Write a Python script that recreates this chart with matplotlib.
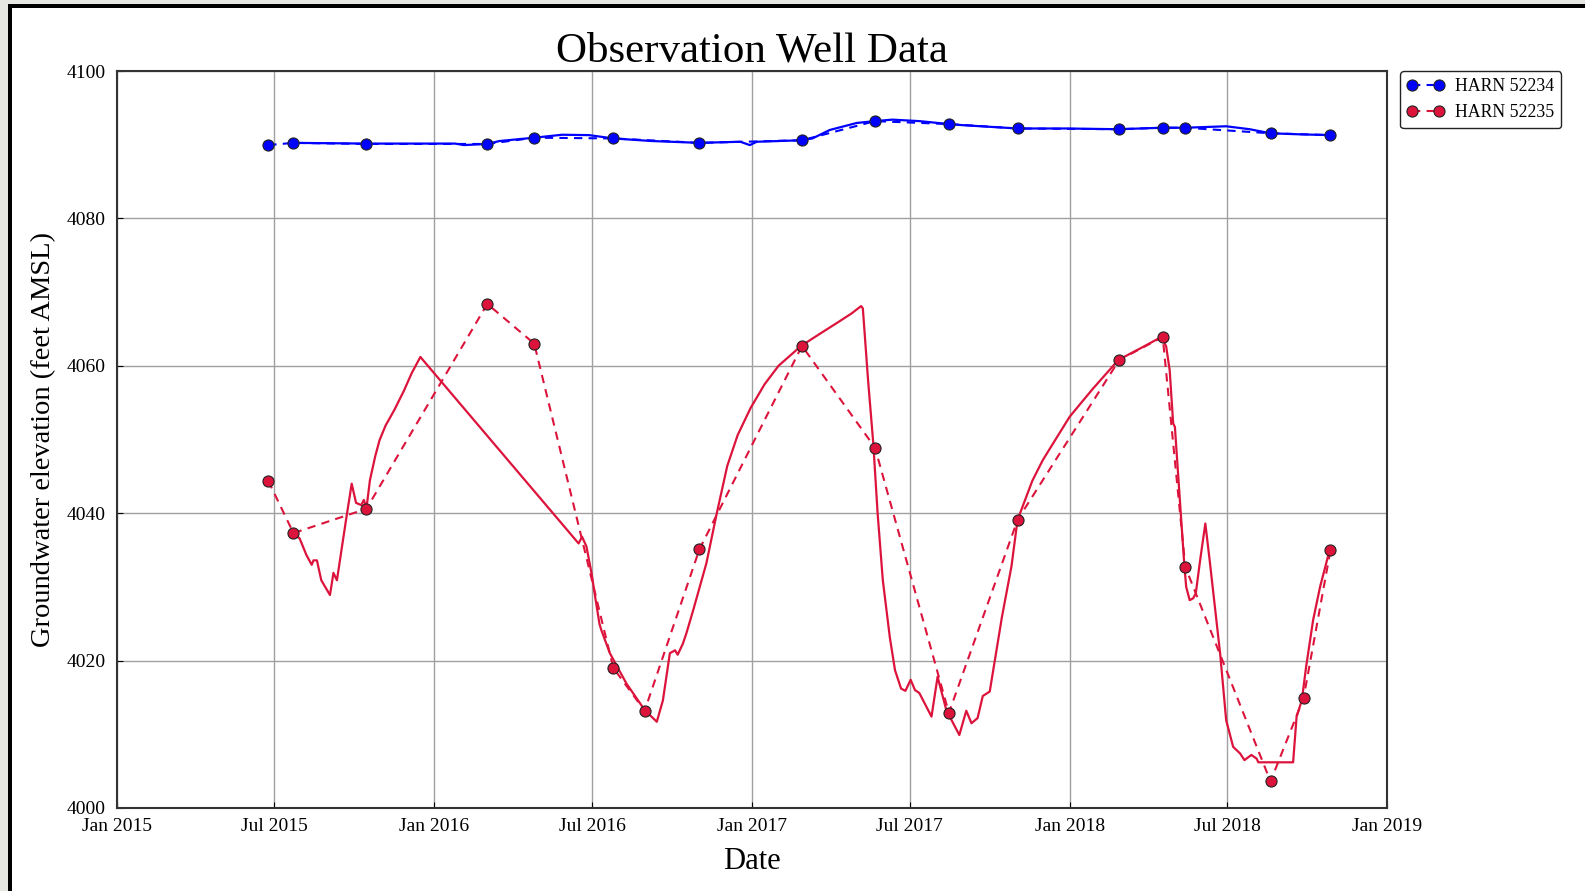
import matplotlib
matplotlib.use('Agg')
import matplotlib.pyplot as plt
import matplotlib.dates as mdates
from matplotlib.patches import Rectangle
import pandas as pd

# sample dates (dots) for each well
red_dates = ['2015-06-24', '2015-07-23', '2015-10-15', '2016-03-02', '2016-04-25',
             '2016-07-25', '2016-08-30', '2016-11-01', '2017-02-27', '2017-05-22',
             '2017-08-15', '2017-11-02', '2018-02-27', '2018-04-18', '2018-05-14',
             '2018-08-20', '2018-09-27', '2018-10-28']
red_values = [4044.4, 4037.3, 4040.6, 4068.4, 4063.0,
              4019.0, 4013.2, 4035.1, 4062.7, 4048.9,
              4012.9, 4039.1, 4060.8, 4063.9, 4032.7,
              4003.6, 4014.9, 4035.0]

blue_dates = ['2015-06-24', '2015-07-23', '2015-10-15', '2016-03-02', '2016-04-25',
              '2016-07-25', '2016-11-01', '2017-02-27', '2017-05-22', '2017-08-15',
              '2017-11-02', '2018-02-27', '2018-04-18', '2018-05-14', '2018-08-20',
              '2018-10-28']
blue_values = [4089.95, 4090.25, 4090.1, 4090.1, 4090.95,
               4090.85, 4090.25, 4090.6, 4093.2, 4092.8,
               4092.2, 4092.1, 4092.3, 4092.3, 4091.55,
               4091.3]

# continuous logger records
red_log_dates = ['2015-07-22', '2015-07-30', '2015-08-07', '2015-08-13', '2015-08-15',
                 '2015-08-19', '2015-08-24', '2015-09-03', '2015-09-07', '2015-09-11',
                 '2015-09-22', '2015-09-28', '2015-10-03', '2015-10-09', '2015-10-12',
                 '2015-10-15', '2015-10-19', '2015-10-25', '2015-10-30', '2015-11-06',
                 '2015-11-16', '2015-11-27', '2015-12-06', '2015-12-16',
                 '2016-06-15', '2016-06-19', '2016-06-24', '2016-06-30', '2016-07-04',
                 '2016-07-09', '2016-07-11', '2016-07-21', '2016-08-09', '2016-08-30',
                 '2016-09-13', '2016-09-20', '2016-09-28', '2016-10-04', '2016-10-07',
                 '2016-10-13', '2016-10-17', '2016-10-25', '2016-11-09', '2016-11-21',
                 '2016-12-03', '2016-12-15', '2016-12-30', '2017-01-15', '2017-01-31',
                 '2017-02-26', '2017-03-19', '2017-04-08', '2017-04-25',
                 '2017-05-06', '2017-05-08', '2017-05-14', '2017-05-20', '2017-05-25',
                 '2017-05-31', '2017-06-08', '2017-06-14', '2017-06-21', '2017-06-26',
                 '2017-07-02', '2017-07-07', '2017-07-12', '2017-07-26', '2017-08-02',
                 '2017-08-12', '2017-08-27', '2017-09-04', '2017-09-10', '2017-09-17',
                 '2017-09-23', '2017-10-01', '2017-10-15', '2017-10-26', '2017-11-02',
                 '2017-11-19', '2017-12-01', '2017-12-12', '2018-01-01', '2018-01-27',
                 '2018-02-26', '2018-03-27', '2018-04-17', '2018-04-22', '2018-04-26',
                 '2018-04-30', '2018-05-02', '2018-05-08', '2018-05-13', '2018-05-15',
                 '2018-05-19', '2018-05-23', '2018-05-26', '2018-05-31', '2018-06-06',
                 '2018-06-11', '2018-06-23', '2018-06-30', '2018-07-08', '2018-07-16',
                 '2018-07-21', '2018-07-29', '2018-08-04', '2018-08-06', '2018-09-15',
                 '2018-09-19', '2018-09-25', '2018-09-30', '2018-10-08', '2018-10-16',
                 '2018-10-27']
red_log_values = [4037.3, 4036.6, 4034.3, 4033.0, 4033.6,
                  4033.6, 4030.9, 4028.9, 4031.9, 4030.9,
                  4039.5, 4044.0, 4041.4, 4041.1, 4041.8,
                  4040.7, 4044.5, 4047.7, 4049.9, 4051.9,
                  4054.0, 4056.6, 4059.0, 4061.2,
                  4035.9, 4036.8, 4035.5, 4031.8, 4028.7,
                  4025.0, 4024.2, 4021.0, 4016.9, 4013.3,
                  4011.7, 4014.6, 4021.0, 4021.4, 4020.8,
                  4022.3, 4023.7, 4026.9, 4033.2, 4040.0,
                  4046.4, 4050.6, 4054.3, 4057.5, 4060.0,
                  4062.7, 4064.3, 4065.8, 4067.1,
                  4068.1, 4067.8, 4058.1, 4049.5, 4040.0,
                  4030.9, 4023.2, 4018.7, 4016.2, 4015.9,
                  4017.4, 4016.0, 4015.6, 4012.4, 4017.8,
                  4013.3, 4009.9, 4013.2, 4011.5, 4012.2,
                  4015.2, 4015.8, 4025.9, 4032.8, 4039.1,
                  4044.4, 4047.2, 4049.3, 4053.1, 4056.8,
                  4060.8, 4062.6, 4063.95, 4062.6, 4059.4,
                  4052.2, 4051.7, 4041.3, 4032.7, 4030.0,
                  4028.2, 4028.45, 4029.1, 4033.6, 4038.6,
                  4033.6, 4021.0, 4011.9, 4008.3, 4007.4,
                  4006.5, 4007.2, 4006.7, 4006.2, 4006.2,
                  4012.4, 4014.6, 4019.2, 4025.5, 4030.0,
                  4035.0]

blue_log_dates = ['2015-07-22', '2015-10-15', '2016-01-25', '2016-02-04', '2016-03-02',
                  '2016-03-16', '2016-04-25', '2016-05-27', '2016-06-27', '2016-07-25',
                  '2016-09-07', '2016-11-01', '2016-12-18', '2016-12-29', '2017-01-06',
                  '2017-02-26', '2017-03-11', '2017-03-31', '2017-05-01', '2017-05-22',
                  '2017-06-11', '2017-07-12', '2017-08-15', '2017-08-31', '2017-11-02',
                  '2017-12-28', '2018-02-26', '2018-04-17', '2018-05-14', '2018-06-30',
                  '2018-07-27', '2018-08-20', '2018-09-24', '2018-10-28']
blue_log_values = [4090.25, 4090.15, 4090.15, 4089.95, 4090.1,
                   4090.5, 4090.95, 4091.35, 4091.3, 4090.85,
                   4090.5, 4090.25, 4090.4, 4089.95, 4090.4,
                   4090.6, 4090.85, 4092.0, 4092.95, 4093.2,
                   4093.4, 4093.2, 4092.8, 4092.65, 4092.2,
                   4092.2, 4092.1, 4092.3, 4092.3, 4092.5,
                   4092.1, 4091.55, 4091.4, 4091.3]

series_labels = ['HARN 52234', 'HARN 52235']
x_ticks = ['2015-01-01', '2015-07-01', '2016-01-01', '2016-07-01', '2017-01-01',
           '2017-07-01', '2018-01-01', '2018-07-01', '2019-01-01']
y_ticks = [4000, 4020, 4040, 4060, 4080, 4100]

BLUE = '#0000ff'
RED = '#dc143c'

plt.rcParams['font.family'] = ['Liberation Serif', 'DejaVu Serif']

fig = plt.figure(figsize=(15.85, 8.91), dpi=100)

# screenshot frame
fig.patches.append(Rectangle((0, 0), 1, 1, transform=fig.transFigure,
                             facecolor='#e6e6e2', edgecolor='none', zorder=-3))
fig.patches.append(Rectangle((12 / 1585, 0), 1, 1 - 8 / 891, transform=fig.transFigure,
                             facecolor='white', edgecolor='none', zorder=-2))
fig.patches.append(Rectangle((8 / 1585, 0), 4 / 1585, 1 - 5 / 891, transform=fig.transFigure,
                             facecolor='black', edgecolor='none', zorder=-1))
fig.patches.append(Rectangle((8 / 1585, 1 - 8 / 891), 1, 3.5 / 891, transform=fig.transFigure,
                             facecolor='black', edgecolor='none', zorder=-1))

ax = fig.add_axes([117 / 1585, 83 / 891, 1270 / 1585, 737 / 891])

ax.plot(pd.to_datetime(blue_log_dates), blue_log_values, '-', color=BLUE, lw=1.6, zorder=3)
ax.plot(pd.to_datetime(red_log_dates), red_log_values, '-', color=RED, lw=1.6, zorder=3)

ax.plot(pd.to_datetime(blue_dates), blue_values, linestyle=(0, (4, 3)), color=BLUE, lw=1.5,
        marker='o', markersize=8, markerfacecolor=BLUE, markeredgecolor='#222222',
        markeredgewidth=0.8, label=series_labels[0], zorder=4)
ax.plot(pd.to_datetime(red_dates), red_values, linestyle=(0, (4, 3)), color=RED, lw=1.5,
        marker='o', markersize=8, markerfacecolor=RED, markeredgecolor='#222222',
        markeredgewidth=0.8, label=series_labels[1], zorder=4)

ax.set_xlim(pd.Timestamp(x_ticks[0]), pd.Timestamp(x_ticks[-1]))
ax.set_ylim(y_ticks[0], y_ticks[-1])
ax.set_xticks(pd.to_datetime(x_ticks))
ax.xaxis.set_major_formatter(mdates.DateFormatter('%b %Y'))
ax.set_yticks(y_ticks)
ax.tick_params(labelsize=14, direction='in', length=4)
ax.tick_params(axis='x', pad=7)
ax.tick_params(axis='y', pad=8)
ax.grid(True, color='#a0a0a0', lw=1.0)
for s in ax.spines.values():
    s.set_linewidth(1.5)
    s.set_color('#333333')

ax.set_title('Observation Well Data', fontsize=31, pad=3)
ax.set_xlabel('Date', fontsize=22, labelpad=9)
ax.set_ylabel('Groundwater elevation (feet AMSL)', fontsize=20.5, labelpad=8)

fig.legend(loc='upper left', bbox_to_anchor=(1400 / 1585, 1 - 71 / 891), borderaxespad=0,
           numpoints=2, fontsize=12.8, handlelength=2.1, handletextpad=0.6,
           frameon=True, fancybox=True, edgecolor='#222222', framealpha=1)

fig.savefig('out.png', dpi=100)
